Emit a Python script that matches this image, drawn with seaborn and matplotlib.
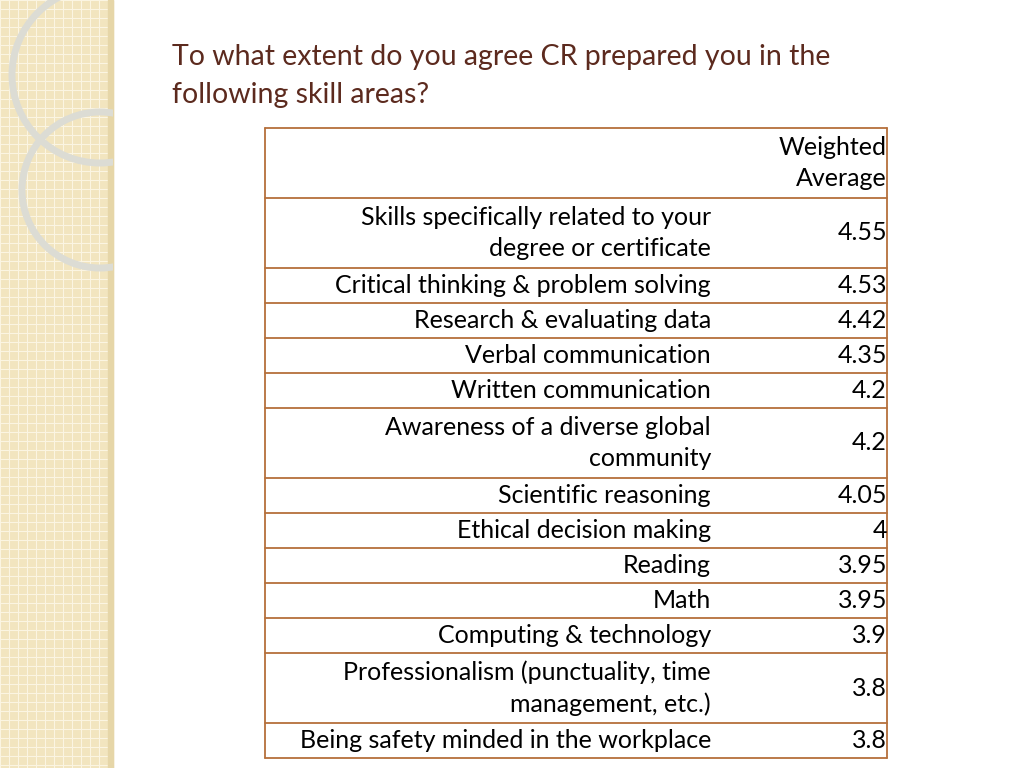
import matplotlib
matplotlib.use("Agg")
import matplotlib.pyplot as plt
import matplotlib.patches as mpatches
import seaborn as sns

skills = [
    "Skills specifically related to your\ndegree or certificate",
    "Critical thinking & problem solving",
    "Research & evaluating data",
    "Verbal communication",
    "Written communication",
    "Awareness of a diverse global\ncommunity",
    "Scientific reasoning",
    "Ethical decision making",
    "Reading",
    "Math",
    "Computing & technology",
    "Professionalism (punctuality, time\nmanagement, etc.)",
    "Being safety minded in the workplace",
]
averages = ["4.55", "4.53", "4.42", "4.35", "4.2", "4.2", "4.05", "4",
            "3.95", "3.95", "3.9", "3.8", "3.8"]
header = "Weighted\nAverage"
title = "To what extent do you agree CR prepared you in the\nfollowing skill areas?"

sns.set_theme(style="white", font="Lato")
fig = plt.figure(figsize=(10.24, 7.68), dpi=100)
ax = fig.add_axes([0, 0, 1, 1])
ax.set_xlim(0, 1024)
ax.set_ylim(768, 0)
ax.axis("off")

# decorative left strip
strip = mpatches.Rectangle((0, 0), 113, 768, color="#f2e5bf", zorder=0)
ax.add_patch(strip)
for g in range(0, 114, 9):
    ax.plot([g, g], [0, 768], color="#fbf5e2", lw=0.8, zorder=1)
for g in range(0, 769, 9):
    ax.plot([0, 113], [g, g], color="#fbf5e2", lw=0.8, zorder=1)
ax.add_patch(mpatches.Rectangle((108, 0), 5, 768, color="#e6d6a8", zorder=1))
for c in [mpatches.Circle((100, 75), 88, fill=False, ec="#dcdcd4", lw=5, zorder=2),
          mpatches.Circle((100, 190), 78, fill=False, ec="#dcdcd4", lw=5, zorder=2)]:
    ax.add_patch(c)
    c.set_clip_path(strip)

ax.text(172, 76, title, fontsize=20.5, color="#5c2a1e", va="center", ha="left",
        linespacing=1.55)

left, mid, right = 265, 713, 887
line_h = 35
border = "#b5703c"
tsize = 18

def row_height(label):
    return line_h * (label.count("\n") + 1)

y = 128
h = row_height(header)
ax.text(right, y + h / 2, header, ha="right", va="center", fontsize=tsize,
        linespacing=1.45, color="black")
ax.plot([left, right], [y, y], color=border, lw=1.3)
y += h
for label, val in zip(skills, averages):
    ax.plot([left, right], [y, y], color=border, lw=1.3)
    h = row_height(label)
    ax.text(mid - 2, y + h / 2, label, ha="right", va="center", fontsize=tsize,
            linespacing=1.45, color="black")
    ax.text(right, y + h / 2, val, ha="right", va="center", fontsize=tsize,
            color="black")
    y += h
ax.plot([left, right], [y, y], color=border, lw=1.3)
ax.plot([left, left], [128, y], color=border, lw=1.3)
ax.plot([right, right], [128, y], color=border, lw=1.3)

fig.savefig("out.png", dpi=100)
